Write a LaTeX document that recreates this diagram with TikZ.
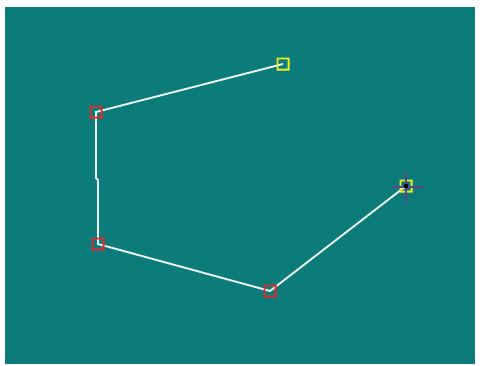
\documentclass[tikz,border=0pt]{standalone}
\definecolor{teal0}{RGB}{11,124,122}
\definecolor{linec}{RGB}{235,245,240}
\definecolor{redsq}{RGB}{230,40,40}
\definecolor{yelsq}{RGB}{240,235,30}
\definecolor{purp}{RGB}{95,65,140}
\tikzset{
  marker/.style={minimum size=13pt, inner sep=0pt, outer sep=0pt,
    path picture={\fill[#1, even odd rule]
      (path picture bounding box.south west) rectangle (path picture bounding box.north east)
      ([shift={(1.8pt,1.8pt)}]path picture bounding box.south west) rectangle
      ([shift={(-1.8pt,-1.8pt)}]path picture bounding box.north east);}},
  redpt/.style={marker=redsq},
  yelpt/.style={marker=yelsq},
  polyline/.style={draw=linec, line width=1.9pt},
  crossline/.style={draw=purp, line width=2.2pt},
}
\begin{document}
\begin{tikzpicture}[x=1pt,y=-1pt]
\useasboundingbox (0,0) rectangle (480,365);
\fill[white] (0,0) rectangle (480,365);
\fill[teal0] (5,7) rectangle (475,364);
% polyline
\coordinate (j1) at (96,178);
\coordinate (j2) at (98,180);
\node[coordinate] (pa) at (283,64) {};
\node[coordinate] (pb) at (96,112) {};
\node[coordinate] (pc) at (98,244) {};
\node[coordinate] (pd) at (270,291) {};
\node[coordinate] (pe) at (406,186) {};
\draw[polyline] (pa) -- (pb) -- (j1) -- (j2) -- (pc) -- (pd) -- (pe);
% markers
\node[yelpt] (a) at (pa) {};
\node[redpt] (b) at (pb) {};
\node[redpt] (c) at (pc) {};
\node[redpt] (d) at (pd) {};
\node[yelpt] (e) at (pe) {};
% cursor cross
\coordinate (cl) at (392,187);
\coordinate (cr) at (423,187);
\coordinate (ct) at (406,172);
\coordinate (cb) at (406,203);
\draw[crossline] (cl) -- (cr);
\draw[crossline] (ct) -- (cb);
\fill[black] (pe) circle (2.3pt);
\end{tikzpicture}
\end{document}
